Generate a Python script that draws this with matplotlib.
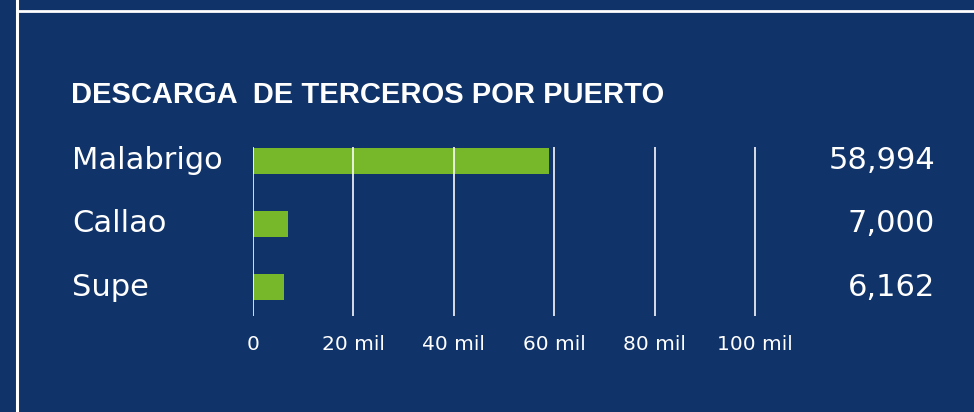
import matplotlib
matplotlib.use("Agg")
from matplotlib import pyplot as plt
from matplotlib import transforms

# data
ports = ['Malabrigo', 'Callao', 'Supe']
values = [58994, 7000, 6162]
ticks = [0, 20000, 40000, 60000, 80000, 100000]
tick_labels = ['0', '20 mil', '40 mil', '60 mil', '80 mil', '100 mil']
title = 'DESCARGA  DE TERCEROS POR PUERTO'

BG = '#10336a'
GREEN = '#76b82a'
W, H = 974, 412

fig = plt.figure(figsize=(W / 100, H / 100), dpi=100, facecolor=BG)

# white frame lines
fig.add_artist(plt.Line2D([17 / W, 17 / W], [0, 1], color='white', lw=2.2))
fig.add_artist(plt.Line2D([17 / W, 1], [1 - 10.5 / H, 1 - 10.5 / H], color='white', lw=2.0))

# title
fig.text(71 / W, 1 - 103 / H, title, color='white', fontsize=21, fontweight='bold',
         family=['Liberation Sans Narrow', 'Liberation Sans'], ha='left', va='baseline')

ax = fig.add_axes([253 / W, 96 / H, 512 / W, 169 / H])
ax.set_facecolor(BG)
ax.barh(range(len(ports)), values, height=0.41, color=GREEN, zorder=1)
ax.set_xlim(0, 102000)
ax.set_ylim(2.45, -0.213)

ax.set_xticks(ticks)
ax.set_xticklabels(tick_labels, family='DejaVu Sans', fontsize=14.5, color='white')
ax.tick_params(axis='x', length=0, pad=14)
ax.set_yticks([])
ax.grid(axis='x', color='white', lw=1.3, alpha=0.9, zorder=2)
ax.set_axisbelow(False)
for s in ax.spines.values():
    s.set_visible(False)

# row labels and value labels
trans = transforms.blended_transform_factory(fig.transFigure, ax.transData)
for i, (p, v) in enumerate(zip(ports, values)):
    ax.text(72 / W, i, p, transform=trans, ha='left', va='center', color='white',
            fontsize=22, family='DejaVu Sans', clip_on=False)
    ax.text(935 / W, i, '{:,}'.format(v), transform=trans, ha='right', va='center',
            color='white', fontsize=22, family='DejaVu Sans', clip_on=False)

fig.savefig('out.png', dpi=100, facecolor=BG)
